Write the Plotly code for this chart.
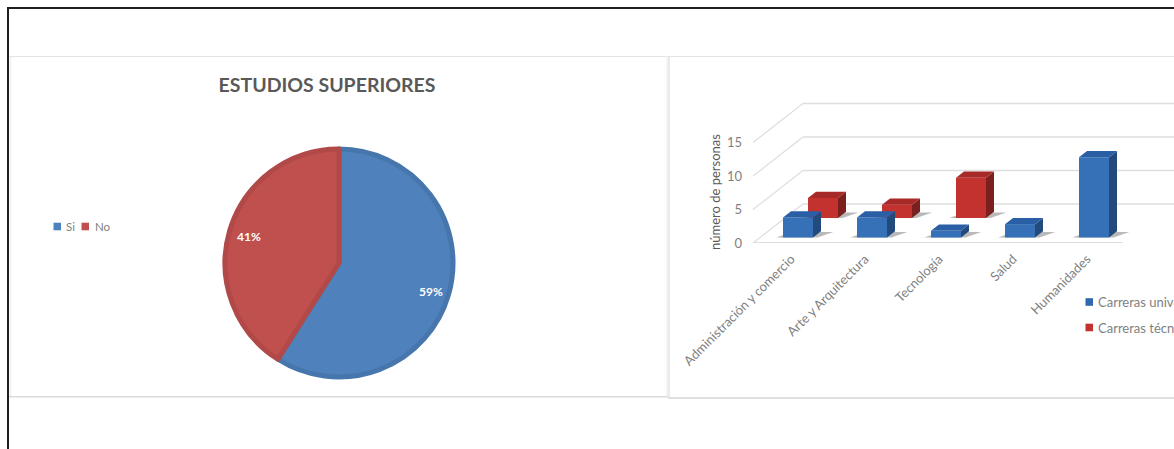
import plotly.graph_objects as go

W, H = 1174, 449

# Pie data
pie_labels = ["Si", "No"]
pie_values = [59, 41]
pie_title = "ESTUDIOS SUPERIORES"

# Column data
categories = ["Administración y comercio", "Arte y Arquitectura", "Tecnología", "Salud", "Humanidades"]
universitarias = [3, 3, 1, 2, 12]
tecnicas = [3, 2, 6, None, None]
series_names = ["Carreras universitarias", "Carreras técnicas"]
y_ticks = [0, 5, 10, 15]
y_title = "número de personas"

GREY = "#7f7f7f"
FONT = "Lato, Carlito, sans-serif"

# Pixel scale of the column plot: one category is 74 px, one unit 6.7 px
CAT_PX, UNIT_PX = 74.0, 6.7
X0_PX, Y0_PX = 791.0, 243.0
DEPTH_X = 50.0 / CAT_PX
DEPTH_Y = 39.0 / UNIT_PX
BAR_W = 30.0 / CAT_PX


def px(v):
    return v / W


def py(v):
    return 1 - v / H


def proj(x, val, depth):
    """Oblique projection of a point standing at a given depth of the floor."""
    return x + depth * DEPTH_X, val + depth * DEPTH_Y


def face_trace(points, color):
    xs = [p[0] for p in points] + [points[0][0]]
    ys = [p[1] for p in points] + [points[0][1]]
    return go.Scatter(x=xs, y=ys, mode="lines", fill="toself", fillcolor=color,
                      line=dict(width=0, color=color), hoverinfo="skip",
                      showlegend=False, xaxis="x", yaxis="y")


fig = go.Figure()
shapes = []


# Frame and panel rules
def rule(x0, y0, x1, y1, color, width):
    shapes.append(dict(type="line", xref="paper", yref="paper", x0=px(x0), y0=py(y0),
                       x1=px(x1), y1=py(y1), line=dict(color=color, width=width), layer="above"))


rule(8, 8, 8, H, "#231f20", 2)
rule(7, 8, W, 8, "#231f20", 2)
rule(9, 56.5, W, 56.5, "#e4e4e4", 1.2)
rule(10.5, 57, 10.5, 396, "#f0f0f0", 1.5)
rule(9, 396.8, 668, 396.8, "#dcdcdc", 1.6)
rule(668, 398, W, 398, "#d6d6d6", 1.6)
rule(667.3, 56, 667.3, 396, "#f0f0f0", 1.5)
rule(669, 56, 669, 398, "#dedede", 1.2)

# Walls and floor of the column plot
n = len(categories)
left_front = (753 - X0_PX) / CAT_PX
right_front = (1123 - X0_PX) / CAT_PX
for t in y_ticks:
    bx, by = proj(left_front, t, 1)
    shapes.append(dict(type="line", xref="x", yref="y", x0=left_front, y0=t, x1=bx, y1=by,
                       line=dict(color="#dedede", width=1.2), layer="below"))
    shapes.append(dict(type="line", xref="x", yref="y", x0=bx, y0=by, x1=(W - X0_PX) / CAT_PX, y1=by,
                       line=dict(color="#dedede", width=1.6), layer="below"))
shapes.append(dict(type="line", xref="x", yref="y", x0=left_front, y0=0, x1=right_front, y1=0,
                   line=dict(color="#dedede", width=1.8), layer="below"))


def add_row(values, d0, d1, front, top, side, name, shadow="rgba(100,100,100,0.45)"):
    present = [i for i, v in enumerate(values) if v is not None]
    # floor shadows sit beneath the columns
    for i in present:
        xl = i - BAR_W / 2
        xr = i + BAR_W / 2
        a = proj(xl - 0.09, 0, d0)
        b = proj(xr + 0.06, 0, d0)
        c = proj(xr + 0.18, 0, d1 - 0.02)
        e = proj(xl + 0.02, 0, d1 - 0.02)
        shapes.append(dict(type="path", xref="x", yref="y", layer="below",
                           path=f"M{a[0]},{a[1]} L{b[0]},{b[1]} L{c[0]},{c[1]} L{e[0]},{e[1]} Z",
                           fillcolor=shadow, line=dict(width=0)))
    fig.add_trace(go.Bar(
        x=[proj(i, 0, d0)[0] for i in present],
        y=[values[i] for i in present],
        base=[proj(i, 0, d0)[1] for i in present],
        width=BAR_W, marker=dict(color=front, line=dict(width=0)),
        name=name, showlegend=False, xaxis="x", yaxis="y"))
    for i in present:
        v = values[i]
        xl = i - BAR_W / 2
        xr = i + BAR_W / 2
        fig.add_trace(face_trace([proj(xr, 0, d0), proj(xr, 0, d1), proj(xr, v, d1), proj(xr, v, d0)], side))
        fig.add_trace(face_trace([proj(xl, v, d0), proj(xr, v, d0), proj(xr, v, d1), proj(xl, v, d1)], top))


add_row(tecnicas, 0.64, 0.80, "#c4322f", "#a82a28", "#7b201f", series_names[1])
add_row(universitarias, 0.14, 0.30, "#3671b8", "#2a5fa5", "#234a7c", series_names[0])

# Pie
fig.add_trace(go.Pie(
    labels=pie_labels, values=pie_values, sort=False, direction="clockwise", rotation=0,
    domain=dict(x=[px(225), px(453)], y=[py(377), py(149)]),
    marker=dict(colors=["#4f81bd", "#c0504d"], line=dict(color=["#4776ad", "#b04947"], width=5)),
    textinfo="none", showlegend=False, automargin=False))

annotations = [
    dict(text=f"{pie_values[0]}%", x=px(430.5), y=py(291), xref="paper", yref="paper", showarrow=False,
         xanchor="center", yanchor="middle",
         font=dict(family=FONT, size=12, color="white", weight="bold")),
    dict(text=f"{pie_values[1]}%", x=px(249), y=py(236), xref="paper", yref="paper", showarrow=False,
         xanchor="center", yanchor="middle",
         font=dict(family=FONT, size=12, color="white", weight="bold")),
    dict(text=y_title, x=px(715), y=py(192), xref="paper", yref="paper", showarrow=False, textangle=-90,
         xanchor="center", yanchor="middle",
         font=dict(family=FONT, size=13, color="#595959")),
]


def legend_entry(sw_x, text_x, y, color, text, size):
    shapes.append(dict(type="rect", xref="paper", yref="paper", x0=px(sw_x), x1=px(sw_x + 7.5),
                       y0=py(y + 3.8), y1=py(y - 3.8), fillcolor=color, line=dict(width=0), layer="above"))
    annotations.append(dict(text=text, x=px(text_x), y=py(y), xref="paper", yref="paper",
                            xanchor="left", yanchor="middle", showarrow=False,
                            font=dict(family=FONT, size=size, color=GREY)))


legend_entry(53.5, 64, 226.5, "#4f81bd", pie_labels[0], 11.5)
legend_entry(81.5, 93, 226.5, "#c0504d", pie_labels[1], 11.5)
legend_entry(1085.5, 1096, 302, "#2f68ad", series_names[0], 13)
legend_entry(1085.5, 1096, 327.5, "#c4322f", series_names[1], 13)

fig.update_layout(
    width=W, height=H, margin=dict(l=0, r=0, t=0, b=0, autoexpand=False),
    paper_bgcolor="white", plot_bgcolor="rgba(0,0,0,0)", showlegend=False, barmode="overlay",
    title=dict(text=pie_title, x=px(327), y=py(85), xref="paper", yref="paper",
               xanchor="center", yanchor="middle",
               font=dict(family=FONT, size=19.5, color="#595959", weight="bold")),
    xaxis=dict(domain=[px(670), 1], range=[(670 - X0_PX) / CAT_PX, (W - X0_PX) / CAT_PX],
               tickmode="array", tickvals=list(range(n)), ticktext=categories, tickangle=-45,
               showgrid=False, zeroline=False, showline=False, ticks="", ticklabelstandoff=5,
               tickfont=dict(family=FONT, size=13, color=GREY)),
    yaxis=dict(domain=[py(Y0_PX), py(90)], range=[0, (Y0_PX - 90) / UNIT_PX],
               anchor="free", position=px(753), tickmode="array", tickvals=y_ticks,
               showgrid=False, zeroline=False, showline=False, ticks="", ticklabelstandoff=11,
               tickfont=dict(family=FONT, size=13, color=GREY)),
    shapes=shapes, annotations=annotations,
)

fig.write_html("out.html", config=dict(displayModeBar=False))
